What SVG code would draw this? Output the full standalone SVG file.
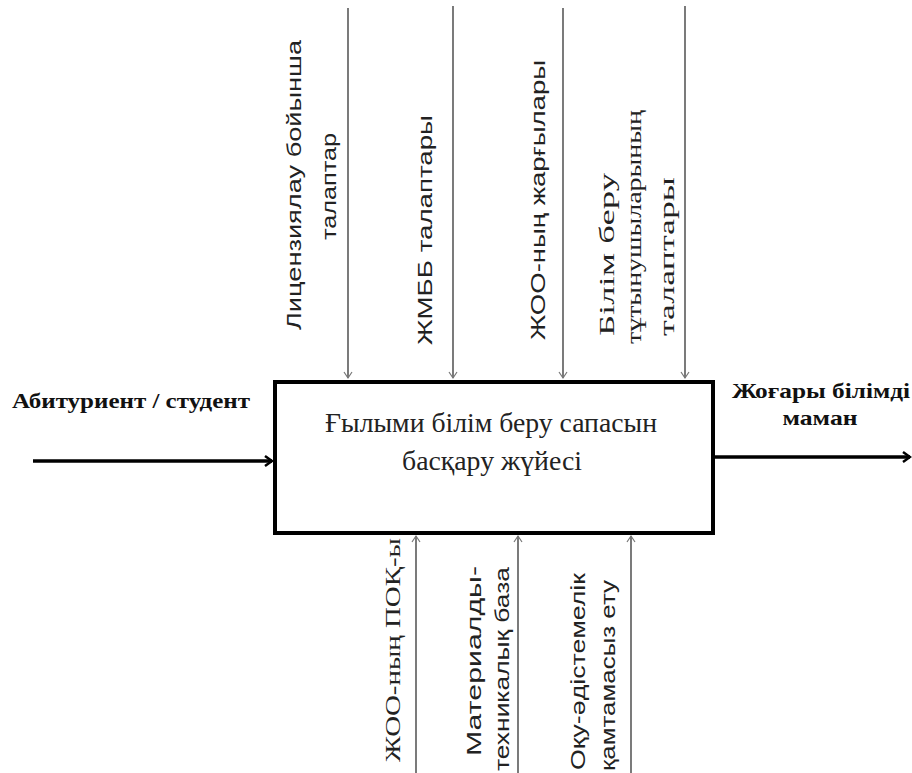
<svg xmlns="http://www.w3.org/2000/svg" width="912" height="773" viewBox="0 0 912 773">
<defs>
<style>
.thin{stroke:#222;stroke-width:1.2;fill:none}
.thick{stroke:#000;stroke-width:3.5;fill:none}
.sans{font-family:"Liberation Sans",Arial,sans-serif;font-size:21px;fill:#222}
.serif{font-family:"Liberation Serif","Times New Roman",serif;font-size:21px;fill:#222}
.bold{font-family:"Liberation Serif","Times New Roman",serif;font-size:21px;font-weight:bold;fill:#111}
.main{font-family:"Liberation Serif","Times New Roman",serif;font-size:27px;fill:#222}
</style>
<marker id="vt" markerUnits="userSpaceOnUse" markerWidth="14" markerHeight="14" refX="7" refY="7" orient="auto">
<path d="M1,3 L7,7 L1,11" fill="none" stroke="#777" stroke-width="1.2"/>
</marker>
<marker id="vk" markerUnits="userSpaceOnUse" markerWidth="16" markerHeight="16" refX="10" refY="8" orient="auto">
<path d="M3,3 L10,8 L3,13" fill="none" stroke="#000" stroke-width="2.5"/>
</marker>
</defs>
<rect width="912" height="773" fill="#fff"/>
<g id="connectors">
<line class="thin" x1="348" y1="8" x2="348" y2="378" marker-end="url(#vt)"/>
<line class="thin" x1="453" y1="6" x2="453" y2="378" marker-end="url(#vt)"/>
<line class="thin" x1="563" y1="8" x2="563" y2="378" marker-end="url(#vt)"/>
<line class="thin" x1="685" y1="6" x2="685" y2="378" marker-end="url(#vt)"/>
<line class="thin" x1="416" y1="773" x2="416" y2="536" marker-end="url(#vt)"/>
<line class="thin" x1="518" y1="773" x2="518" y2="536" marker-end="url(#vt)"/>
<line class="thin" x1="631" y1="773" x2="631" y2="536" marker-end="url(#vt)"/>
<line class="thick" x1="33" y1="461" x2="272" y2="461" marker-end="url(#vk)"/>
<line class="thick" x1="715" y1="457" x2="910" y2="457" marker-end="url(#vk)"/>
</g>
<g id="process">
<rect x="275" y="382" width="438" height="151" fill="#fff" stroke="#000" stroke-width="4"/>
<text class="main" x="491" y="432" text-anchor="middle" textLength="332" lengthAdjust="spacingAndGlyphs">Ғылыми білім беру сапасын</text>
<text class="main" x="492" y="470" text-anchor="middle" textLength="180" lengthAdjust="spacingAndGlyphs">басқару жүйесі</text>
</g>
<g id="input">
<text class="bold" x="12" y="408" textLength="238" lengthAdjust="spacingAndGlyphs">Абитуриент / студент</text>
</g>
<g id="output">
<text class="bold" x="821" y="398" text-anchor="middle" textLength="178" lengthAdjust="spacingAndGlyphs">Жоғары білімді</text>
<text class="bold" x="820" y="425" text-anchor="middle" textLength="75" lengthAdjust="spacingAndGlyphs">маман</text>
</g>
<g id="control1">
<text class="sans" transform="translate(293,330) rotate(-90)" dominant-baseline="central" textLength="290" lengthAdjust="spacingAndGlyphs">Лицензиялау бойынша</text>
<text class="sans" transform="translate(328,240) rotate(-90)" dominant-baseline="central" textLength="107" lengthAdjust="spacingAndGlyphs">талаптар</text>
</g>
<g id="control2">
<text class="sans" transform="translate(424,345) rotate(-90)" dominant-baseline="central" textLength="230" lengthAdjust="spacingAndGlyphs">ЖМББ талаптары</text>
</g>
<g id="control3">
<text class="sans" transform="translate(537,340) rotate(-90)" dominant-baseline="central" textLength="280" lengthAdjust="spacingAndGlyphs">ЖОО-ның жарғылары</text>
</g>
<g id="control4">
<text class="serif" transform="translate(607,336) rotate(-90)" dominant-baseline="central" textLength="163" lengthAdjust="spacingAndGlyphs">Білім беру</text>
<text class="serif" transform="translate(634,344) rotate(-90)" dominant-baseline="central" textLength="234" lengthAdjust="spacingAndGlyphs">тұтынушыларының</text>
<text class="serif" transform="translate(667,336) rotate(-90)" dominant-baseline="central" textLength="159" lengthAdjust="spacingAndGlyphs">талаптары</text>
</g>
<g id="mechanism1">
<text class="serif" transform="translate(393,762) rotate(-90)" dominant-baseline="central" textLength="224" lengthAdjust="spacingAndGlyphs">ЖОО-ның ПОҚ-ы</text>
</g>
<g id="mechanism2">
<text class="sans" transform="translate(473,756) rotate(-90)" dominant-baseline="central" textLength="190" lengthAdjust="spacingAndGlyphs">Материалды-</text>
<text class="sans" transform="translate(501,771) rotate(-90)" dominant-baseline="central" textLength="204" lengthAdjust="spacingAndGlyphs">техникалық база</text>
</g>
<g id="mechanism3">
<text class="sans" transform="translate(577,770) rotate(-90)" dominant-baseline="central" textLength="197" lengthAdjust="spacingAndGlyphs">Оқу-әдістемелік</text>
<text class="sans" transform="translate(607,771) rotate(-90)" dominant-baseline="central" textLength="191" lengthAdjust="spacingAndGlyphs">қамтамасыз ету</text>
</g>
</svg>
